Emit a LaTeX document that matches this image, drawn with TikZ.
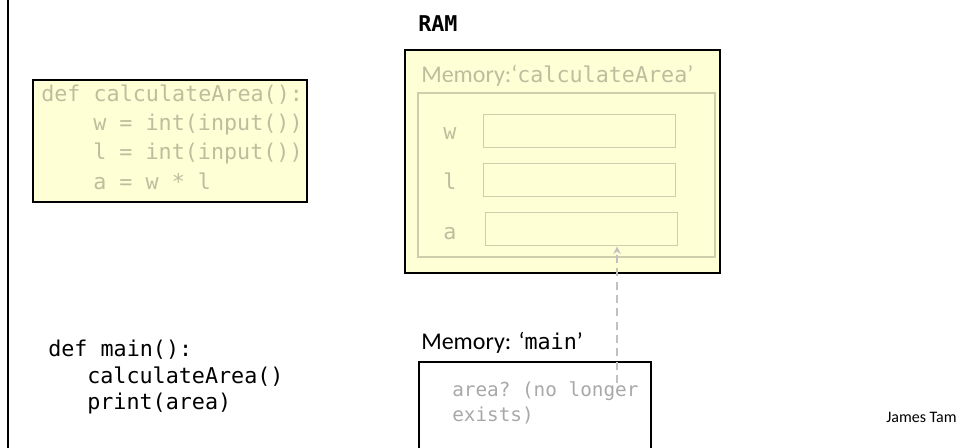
\documentclass[tikz,border=0pt]{standalone}
\usepackage{fontspec}
\setmainfont{Carlito}
\setmonofont{DejaVu Sans Mono}
\usetikzlibrary{arrows}

\definecolor{memfill}{RGB}{255,255,214}
\definecolor{memline}{RGB}{206,206,172}
\definecolor{faded}{RGB}{190,190,158}
\definecolor{greyed}{RGB}{168,168,168}
\definecolor{pointer}{RGB}{192,192,192}

\newcommand{\codeword}[1]{{\fontsize{16.3}{19}\selectfont\ttfamily #1}}

\tikzset{
  codetext/.style={anchor=base west, inner sep=0pt, font=\fontsize{16.3}{19}\selectfont\ttfamily},
  fadedtext/.style={codetext, text=faded},
  labeltext/.style={anchor=base west, inner sep=0pt, font=\fontsize{18}{21}\selectfont},
  slot/.style={draw=memline, line width=0.75pt, minimum width=144pt, minimum height=24.75pt, inner sep=0pt}
}

\begin{document}
\begin{tikzpicture}[x=0.75pt,y=-0.75pt]
\useasboundingbox (0,0) rectangle (960,448);

%Frame
\draw [line width=1.5pt] (8,0) -- (8,448);

%Function Definition
\filldraw [fill=memfill, draw=black, line width=1.5pt] (33,80) rectangle (307,202);
\node [fadedtext] (def1) at (41,102) {def calculateArea():};
\node [fadedtext] (def2) at (93,131) {w = int(input())};
\node [fadedtext] (def3) at (93,160) {l = int(input())};
\node [fadedtext] (def4) at (93,190) {a = w * l};

%Main Program
\node [codetext] (main1) at (48,357) {def main():};
\node [codetext] (main2) at (87,383.5) {calculateArea()};
\node [codetext] (main3) at (87,410) {print(area)};

%RAM
\node [anchor=base west, inner sep=0pt, font=\fontsize{16.3}{19}\selectfont\ttfamily\bfseries] (ram) at (418,32) {RAM};
\filldraw [fill=memfill, draw=black, line width=1.5pt] (405,50) rectangle (720,273);
\node [labeltext, text=faded] (calcmem) at (421,83) {Memory:`\codeword{calculateArea}'};
\draw [memline, line width=1.5pt] (418,93) rectangle (715,257);

%Variable Slots
\node [slot] (wslot) at (579.5,131.5) {};
\node [slot] (lslot) at (579.5,180.5) {};
\node [slot] (aslot) at (581.5,229.5) {};
\foreach \y/\name in {140/w,190/l,240/a}
	\node [fadedtext] (\name label) at (443,\y) {\name};

%Memory for main
\node [labeltext] (mainmem) at (421,350) {Memory: `\codeword{main}'};
\draw [line width=1.5pt] (419,460) -- (419,362) -- (651,362) -- (651,460);
\node [codetext, font=\fontsize{14.5}{17}\selectfont\ttfamily, text=greyed] (area1) at (452,397) {area? (no longer};
\node [codetext, font=\fontsize{14.5}{17}\selectfont\ttfamily, text=greyed] (area2) at (452,422) {exists)};

%Pointer
\coordinate (gone) at (617,383);
\draw [->, >=stealth, pointer, line width=1.5pt, dash pattern=on 6pt off 4pt] (gone) -- (gone |- aslot.south);

%Extras
\node [anchor=base west, inner sep=0pt, font=\fontsize{12}{14}\selectfont] (author) at (886,423) {James Tam};
\end{tikzpicture}
\end{document}
